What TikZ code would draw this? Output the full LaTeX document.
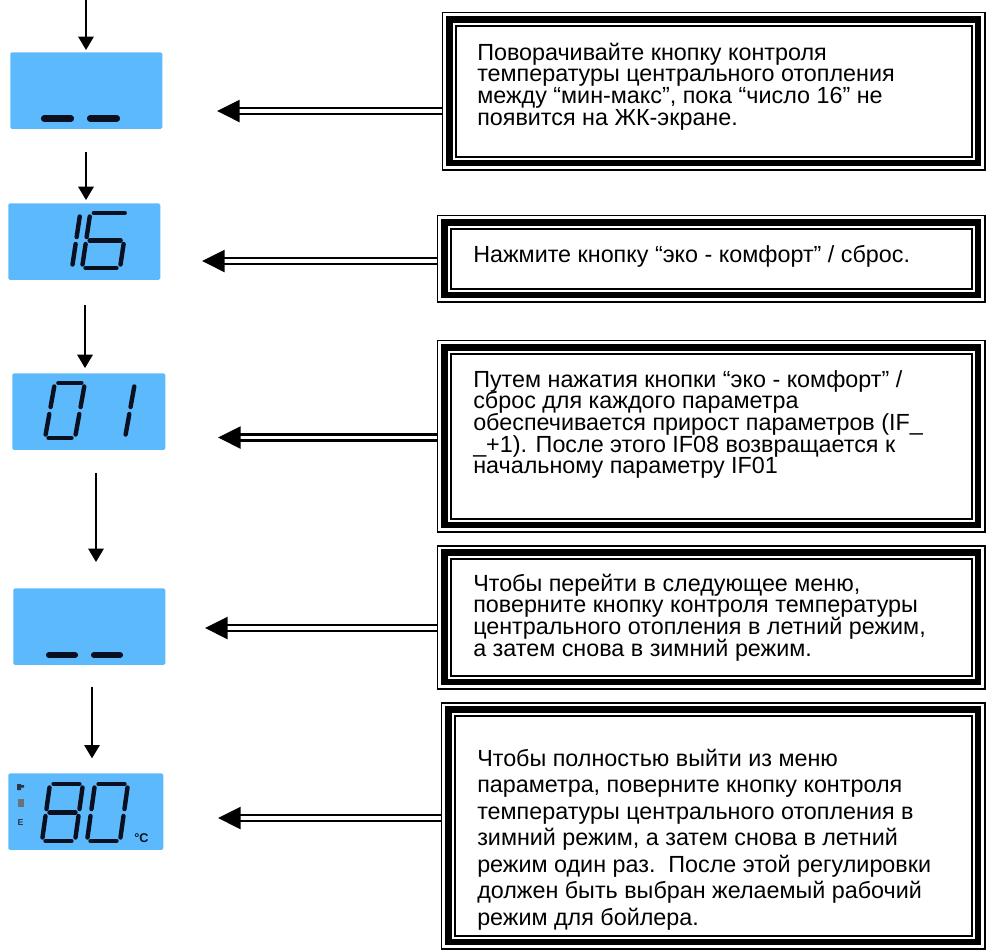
\documentclass[tikz,border=0pt]{standalone}
\usepackage{fontspec}
\setmainfont{Liberation Sans}
\usetikzlibrary{arrows.meta}
\definecolor{lcdblue}{RGB}{92,186,252}
\definecolor{segc}{RGB}{10,16,32}
\newcommand\tline[1]{\hbox{#1}}
\newcommand\para[2]{\vtop{\baselineskip=#1\lineskiplimit=-1000pt\lineskip=0pt #2}}
\newcommand\lcddigit[6]{%
  \begin{scope}[shift={(#1,#2)},x=0.75pt,y={(#5*0.75pt,0.75pt)}]
    \def\dW{#3}\def\dH{#4}\def\dG{3.5}%
    \foreach \s in {#6}{\pic{seg\s};}
  \end{scope}}
\newcommand\tribox[1]{%
  \draw[line width=1.1pt] ([shift={(0.75,0.75)}]#1.north west) rectangle ([shift={(-0.75,-0.75)}]#1.south east);
  \draw[line width=4.6pt] ([shift={(7.5,7.5)}]#1.north west) rectangle ([shift={(-7.5,-7.5)}]#1.south east);
  \draw[line width=1.5pt] ([shift={(13.5,13.5)}]#1.north west) rectangle ([shift={(-13.5,-13.5)}]#1.south east);}
\tikzset{
  segline/.style={line width=3.3pt, line cap=round, draw=segc},
  dashseg/.style={line width=4.6pt, line cap=round, draw=segc},
  pics/sega/.code={\draw[segline] (\dG,\dH) -- (\dW-\dG,\dH);},
  pics/segb/.code={\draw[segline] (\dW,\dH-\dG) -- (\dW,\dH/2+\dG);},
  pics/segc/.code={\draw[segline] (\dW,\dH/2-\dG) -- (\dW,\dG);},
  pics/segd/.code={\draw[segline] (\dG,0) -- (\dW-\dG,0);},
  pics/sege/.code={\draw[segline] (0,\dG) -- (0,\dH/2-\dG);},
  pics/segf/.code={\draw[segline] (0,\dH/2+\dG) -- (0,\dH-\dG);},
  pics/segg/.code={\draw[segline] (\dG,\dH/2) -- (\dW-\dG,\dH/2);},
  lcd/.style={fill=lcdblue, draw=none, rounded corners=1.2pt, inner sep=0, anchor=north west, minimum width=114pt, minimum height=57.5pt},
  tbox/.style={draw=none, inner sep=0, anchor=north west},
  txt/.style={anchor=base west, inner sep=0, align=left, font=\fontsize{17.5}{16.3}\selectfont},
  downarr/.style={line width=1.5pt, -{Triangle[length=10pt,width=11.5pt]}},
  dblarr/.style={double, double distance=2.6pt, line width=1.9pt, -{Triangle[length=17pt,width=16.5pt]}},
}
\begin{document}
\begin{tikzpicture}[x=0.75pt,y=-0.75pt]
\useasboundingbox (0,0) rectangle (987,951);
% LCD displays
\node[lcd] (lcd1) at (10,52) {};
\node[lcd] (lcd2) at (8,203) {};
\node[lcd, minimum width=114.75pt] (lcd3) at (12,373) {};
\node[lcd] (lcd4) at (13,588) {};
\node[lcd, minimum width=116.25pt] (lcd5) at (8,773) {};
% LCD 1: dashes
\draw[dashseg] (44,118.5) -- (71,118.5);
\draw[dashseg] (90,118.5) -- (117,118.5);
% LCD 2: 16
\lcddigit{34}{268}{38}{55}{0.15}{b,c}
\lcddigit{82}{268}{38}{55}{0.15}{a,f,g,e,d,c}
% LCD 3: 0 1
\lcddigit{45}{438}{30}{55}{0.18}{a,b,c,d,e,f}
\lcddigit{95}{438}{30}{55}{0.18}{b,c}
% LCD 4: dashes
\draw[dashseg] (49,655) -- (75,655);
\draw[dashseg] (94,655) -- (120,655);
% LCD 5: 80 C
\lcddigit{42}{841}{33}{57}{0.14}{a,b,c,d,e,f,g}
\lcddigit{87}{841}{33}{57}{0.14}{a,b,c,d,e,f}
\fill[segc!85] (17,784) rectangle (21,790) (21,785) rectangle (24,787.5);
\fill[segc!60] (18,799) rectangle (24,807);
\node[inner sep=0, text=segc!85, font=\fontsize{6.5}{6.5}\selectfont\bfseries] (iconE) at (20.5,822) {E};
\node[anchor=base west, inner sep=0, text=segc, font=\fontsize{9.5}{9.5}\selectfont\bfseries] (degc) at (134,842) {°C};
% vertical arrows
\coordinate (c0) at (86,0);
\coordinate (c1) at (86,152);
\coordinate (c2) at (85,305);
\coordinate (c3) at (96,473);
\coordinate (c4) at (92,687);
\draw[downarr, shorten >=1.5pt] (c0) -- (c0 |- lcd1.north);
\draw[downarr, shorten >=2.2pt] (c1) -- (c1 |- lcd2.north);
\draw[downarr, shorten >=3.7pt] (c2) -- (c2 |- lcd3.north);
\draw[downarr, shorten >=19.5pt] (c3) -- (c3 |- lcd4.north);
\draw[downarr, shorten >=11pt] (c4) -- (c4 |- lcd5.north);
% text boxes
\node[tbox, minimum width=407.25pt, minimum height=118.5pt] (b1) at (442,12) {};
\node[tbox, minimum width=411pt, minimum height=65.25pt] (b2) at (437,215) {};
\node[tbox, minimum width=411pt, minimum height=144pt] (b3) at (437,340) {};
\node[tbox, minimum width=411pt, minimum height=108pt] (b4) at (437,545) {};
\node[tbox, minimum width=408pt, minimum height=185.25pt] (b5) at (441,702) {};
% horizontal arrows
\coordinate (h1) at (217,111);
\coordinate (h2) at (202,261);
\coordinate (h3) at (218,437.5);
\coordinate (h4) at (205,628);
\coordinate (h5) at (218,818);
\draw[dblarr] (h1 -| b1.west) -- (h1);
\draw[dblarr] (h2 -| b2.west) -- (h2);
\draw[dblarr] (h3 -| b3.west) -- (h3);
\draw[dblarr] (h4 -| b4.west) -- (h4);
\draw[dblarr] (h5 -| b5.west) -- (h5);
\tribox{b1}\tribox{b2}\tribox{b3}\tribox{b4}\tribox{b5}
% texts
\node[txt] (t1) at (477,60) {\para{16.3pt}{%
\tline{Поворачивайте кнопку контроля}
\tline{температуры центрального отопления}
\tline{между “мин-макс”, пока “число 16” не}
\tline{появится на ЖК-экране.}}};
\node[txt] (t2) at (473,262) {Нажмите кнопку “эко - комфорт” / сброс.};
\node[txt] (t3) at (473,387) {\para{16.3pt}{%
\tline{Путем нажатия кнопки “эко - комфорт” /}
\tline{сброс для каждого параметра}
\tline{обеспечивается прирост параметров (IF\_}
\tline{\_+1). После этого IF08 возвращается к}
\tline{начальному параметру IF01}}};
\node[txt] (t4) at (473,591) {\para{16.3pt}{%
\tline{Чтобы перейти в следующее меню,}
\tline{поверните кнопку контроля температуры}
\tline{центрального отопления в летний режим,}
\tline{а затем снова в зимний режим.}}};
\node[txt] (t5) at (477,766) {\para{19.9pt}{%
\tline{Чтобы полностью выйти из меню}
\tline{параметра, поверните кнопку контроля}
\tline{температуры центрального отопления в}
\tline{зимний режим, а затем снова в летний}
\tline{режим один раз.\ \ После этой регулировки}
\tline{должен быть выбран желаемый рабочий}
\tline{режим для бойлера.}}};
\end{tikzpicture}
\end{document}
